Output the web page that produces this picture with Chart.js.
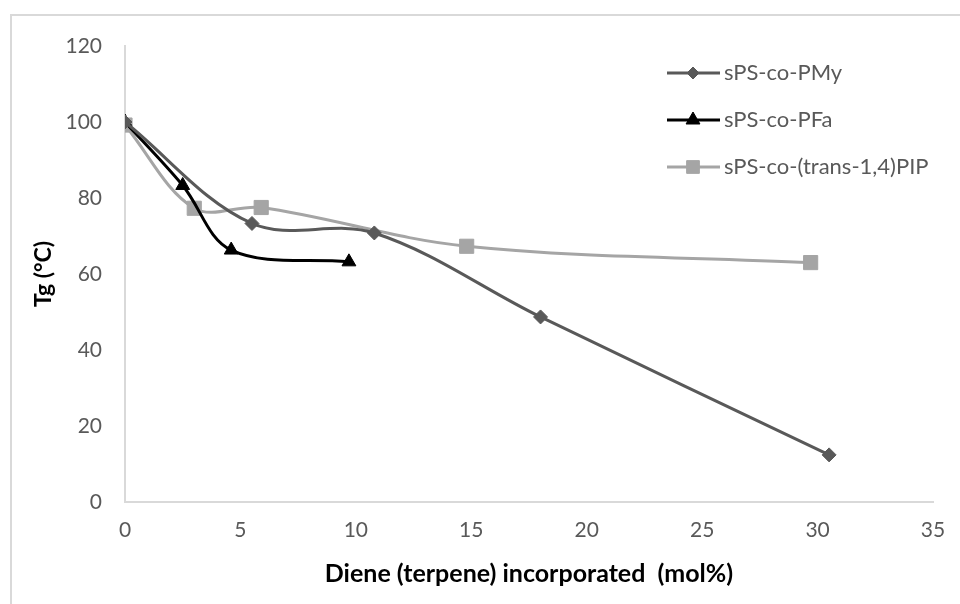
<!DOCTYPE html>
<html>
<head>
<meta charset="utf-8">
<script src="https://cdn.jsdelivr.net/npm/chart.js@4.4.1/dist/chart.umd.min.js"></script>
<style>
  html, body { margin: 0; padding: 0; background: #fff; }
  #myChartContainer { width: 960px; height: 604px; }
</style>
</head>
<body>
<div id="myChartContainer"><canvas id="myChart" width="960" height="604"></canvas></div>
<script>
var seriesNames = ["sPS-co-PMy", "sPS-co-PFa", "sPS-co-(trans-1,4)PIP"];
var pmyX = [0, 5.5, 10.8, 18, 30.5];
var pmyY = [100, 73.3, 70.8, 48.7, 12.4];
var pfaX = [0, 2.5, 4.6, 9.7];
var pfaY = [100, 83.3, 66.3, 63.2];
var pipX = [0, 3, 5.9, 14.8, 29.7];
var pipY = [99.2, 77.3, 77.5, 67.3, 63];
var xTicks = [0, 5, 10, 15, 20, 25, 30, 35];
var yTicks = [0, 20, 40, 60, 80, 100, 120];

function toPoints(xs, ys) {
    return xs.map(function(x, i){ return {x: x, y: ys[i]}; });
}

document.addEventListener('DOMContentLoaded', function(){
    var tickFont = {family: "Lato, 'Open Sans', sans-serif", size: 21};
    var xTitleFont = {family: "Lato, 'Open Sans', sans-serif", size: 25, weight: 'bold'};
    var yTitleFont = {family: "Lato, 'Open Sans', sans-serif", size: 23, weight: 'bold'};

    var data = {
        datasets: [{
            label: seriesNames[0],
            data: toPoints(pmyX, pmyY),
            borderColor: '#595959',
            backgroundColor: '#595959',
            borderWidth: 3,
            pointStyle: 'rectRot',
            pointRadius: 7,
            pointBorderWidth: 1,
            legendRadius: 6,
            tension: 0.35
        }, {
            label: seriesNames[1],
            data: toPoints(pfaX, pfaY),
            borderColor: '#000000',
            backgroundColor: '#000000',
            borderWidth: 3,
            pointStyle: 'triangle',
            pointRadius: 8,
            pointBorderWidth: 1,
            legendRadius: 8,
            tension: 0.35
        }, {
            label: seriesNames[2],
            data: toPoints(pipX, pipY),
            borderColor: '#a5a5a5',
            backgroundColor: '#a5a5a5',
            borderWidth: 3,
            pointStyle: 'rect',
            pointRadius: 10,
            pointBorderWidth: 1,
            legendRadius: 9,
            tension: 0.35
        }]
    };

    // grey frame round the whole chart
    var framePlugin = {
        id: 'frame',
        beforeDraw: function(chart){
            var ctx = chart.ctx;
            ctx.save();
            ctx.strokeStyle = '#d9d9d9';
            ctx.lineWidth = 2;
            ctx.strokeRect(11, 15, chart.width + 20, chart.height + 20);
            ctx.restore();
        }
    };

    // Excel style legend: line with marker, inside the plot
    var legendPlugin = {
        id: 'excelLegend',
        afterDraw: function(chart){
            var ctx = chart.ctx;
            var rows = [73, 120, 167];
            ctx.save();
            chart.data.datasets.forEach(function(ds, i){
                var y = rows[i];
                ctx.strokeStyle = ds.borderColor;
                ctx.lineWidth = 3;
                ctx.beginPath();
                ctx.moveTo(667, y);
                ctx.lineTo(720, y);
                ctx.stroke();
                ctx.fillStyle = ds.backgroundColor;
                ctx.strokeStyle = ds.borderColor;
                ctx.lineWidth = 1;
                Chart.helpers.drawPoint(ctx, {pointStyle: ds.pointStyle, radius: ds.legendRadius, rotation: 0, borderWidth: 1}, 693, y);
                ctx.fillStyle = '#595959';
                ctx.font = "22px Lato, 'Open Sans', sans-serif";
                ctx.textBaseline = 'middle';
                ctx.textAlign = 'left';
                ctx.fillText(ds.label, 724, y);
            });
            ctx.restore();
        }
    };

    var options = {
        responsive: false,
        animation: false,
        layout: { padding: {left: 0, right: 27, top: 46, bottom: 0} },
        plugins: {
            legend: { display: false },
            tooltip: { enabled: false }
        },
        scales: {
            x: {
                type: 'linear',
                min: 0, max: 35,
                afterBuildTicks: function(scale){ scale.ticks = xTicks.map(function(v){ return {value: v}; }); },
                afterFit: function(scale){ scale.height = 102; },
                grid: { display: false },
                border: { display: true, color: '#d9d9d9', width: 2 },
                ticks: { font: tickFont, color: '#595959', padding: 8 },
                title: { display: true, text: 'Diene (terpene) incorporated  (mol%)', font: xTitleFont, color: '#000', padding: {top: 0, bottom: 15} }
            },
            y: {
                min: 0, max: 120,
                afterBuildTicks: function(scale){ scale.ticks = yTicks.map(function(v){ return {value: v}; }); },
                afterFit: function(scale){ scale.width = 125; },
                grid: { display: false },
                border: { display: true, color: '#d9d9d9', width: 2 },
                ticks: { font: tickFont, color: '#595959', padding: 15 },
                title: { display: true, text: 'Tg (°C)', font: yTitleFont, color: '#000', padding: {top: 30, bottom: 0} }
            }
        }
    };

    var ctx = document.getElementById("myChart").getContext('2d');
    var myChart = new Chart(ctx, {
        type: 'line',
        data: data,
        options: options,
        plugins: [framePlugin, legendPlugin]
    });
});
</script>
</body>
</html>
